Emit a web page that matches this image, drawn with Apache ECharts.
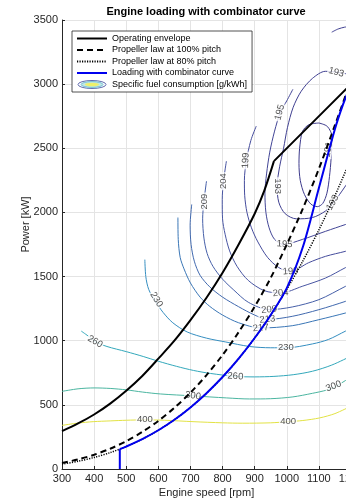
<!DOCTYPE html>
<html><head><meta charset="utf-8">
<script src="https://cdn.jsdelivr.net/npm/echarts@6/dist/echarts.min.js"></script>
<style>html,body{margin:0;padding:0;background:#fff}#c{width:346px;height:499px}</style>
</head><body><div id="c"></div>
<script>
// ---- axes ----
const xTicks = [300, 400, 500, 600, 700, 800, 900, 1000, 1100, 1200];
const yTicks = [0, 500, 1000, 1500, 2000, 2500, 3000, 3500];

// ---- main curves (speed rpm, power kW) ----
const envSpeed = [300, 350, 400, 450, 500, 550, 600, 650, 700, 750, 800, 850, 900, 930, 960, 1080, 1200];
const envPower = [295, 355, 425, 510, 610, 725, 860, 1000, 1160, 1335, 1530, 1750, 1990, 2170, 2400, 2700, 3000];

const propSpeed = [300, 350, 400, 450, 500, 550, 600, 650, 700, 750, 800, 850, 900, 950, 1000, 1050, 1100, 1150, 1200];
const prop100Power = [47, 75, 111, 158, 217, 289, 375, 477, 595, 732, 889, 1066, 1266, 1490, 1750, 2030, 2340, 2680, 3030];
const prop80Power = [38, 60, 90, 128, 175, 233, 302, 384, 480, 591, 717, 860, 1021, 1201, 1400, 1621, 1864, 2130, 2420];

const combSpeed = [480, 480, 500, 550, 600, 650, 700, 750, 800, 850, 900, 950, 1000, 1050, 1100, 1150, 1175, 1200];
const combPower = [0, 155, 175, 233, 302, 384, 480, 591, 717, 860, 1021, 1201, 1410, 1730, 2190, 2650, 2840, 3000];

// ---- specific fuel consumption contours [g/kWh] ----
const c191Speed = [1100, 1069, 1049, 1040, 1038, 1042, 1055, 1075, 1095, 1112, 1125, 1133, 1138, 1141, 1126, 1100];
const c191Power = [2697, 2684, 2632, 2500, 2380, 2250, 2140, 2065, 2045, 2070, 2150, 2280, 2420, 2590, 2671, 2697];
const c193Speed = [1200, 1175, 1150, 1120, 1080, 1045, 1020, 1002, 990, 978, 970, 975, 995, 1030, 1080, 1120, 1145, 1170, 1200];
const c193Power = [3075, 3085, 3095, 3100, 3045, 2945, 2820, 2660, 2500, 2360, 2205, 2080, 1990, 1950, 1960, 2010, 2075, 2160, 2270];
const c193bSpeed = [1140, 1160, 1180, 1200];
const c193bPower = [3405, 3430, 3444, 3450];
const c195Speed = [1019, 1000, 980, 962, 947, 937, 932, 935, 945, 962, 990, 1048, 1121, 1183, 1200];
const c195Power = [2960, 2870, 2780, 2634, 2470, 2300, 2150, 2000, 1880, 1790, 1750, 1789, 1853, 1906, 1920];
const c199Speed = [905, 888, 874, 868, 869, 876, 890, 910, 940, 975, 1012, 1068, 1121, 1183, 1200];
const c199Power = [2673, 2560, 2400, 2250, 2130, 2000, 1880, 1770, 1650, 1570, 1541, 1608, 1658, 1697, 1710];
const c204Speed = [812, 803, 799, 800, 808, 822, 845, 880, 930, 981, 1048, 1121, 1183, 1200];
const c204Power = [2400, 2244, 2100, 1950, 1830, 1700, 1580, 1470, 1390, 1372, 1424, 1489, 1570, 1590];
const c209Speed = [750, 742, 738, 742, 752, 770, 800, 835, 880, 945, 1017, 1100, 1183, 1200];
const c209Power = [2244, 2085, 1950, 1800, 1680, 1580, 1480, 1395, 1300, 1242, 1263, 1320, 1424, 1445];
const c213Speed = [704, 699, 702, 712, 730, 760, 800, 850, 900, 940, 1017, 1100, 1183, 1200];
const c213Power = [2062, 1900, 1750, 1620, 1510, 1420, 1340, 1265, 1200, 1166, 1190, 1242, 1307, 1325];
const c217Speed = [661, 662, 668, 680, 700, 730, 760, 800, 850, 919, 1017, 1100, 1183, 1200];
const c217Power = [1960, 1790, 1650, 1560, 1450, 1340, 1268, 1200, 1140, 1099, 1117, 1164, 1216, 1230];
const c230Speed = [558, 561, 570, 590, 615, 645, 690, 750, 810, 884, 950, 1000, 1080, 1130, 1183, 1200];
const c230Power = [1632, 1500, 1400, 1310, 1220, 1140, 1068, 1020, 990, 955, 945, 945, 975, 1010, 1075, 1095];
const c260Speed = [360, 385, 403, 440, 500, 553, 600, 657, 710, 762, 840, 900, 960, 1020, 1080, 1140, 1200];
const c260Power = [1075, 1030, 993, 955, 915, 877, 840, 800, 768, 745, 722, 718, 722, 735, 762, 810, 880];
const c300Speed = [300, 350, 400, 450, 500, 550, 606, 708, 813, 884, 950, 1019, 1080, 1124, 1150, 1183, 1200];
const c300Power = [605, 625, 632, 628, 617, 600, 585, 570, 554, 546, 548, 562, 590, 615, 640, 690, 715];
const c400Speed = [300, 350, 397, 450, 500, 558, 620, 708, 800, 863, 950, 1004, 1050, 1102, 1150, 1200];
const c400Power = [340, 358, 369, 375, 380, 383, 380, 369, 360, 357, 360, 369, 378, 398, 432, 490];

// contour labels
const lblText  = ['193', '195', '199', '204', '209', '193', '191', '193', '195', '199', '204', '209', '213', '217', '230', '230', '260', '260', '300', '300', '400', '400'];
const lblSpeed = [1154, 978, 872, 803, 742, 970, 1129, 1143, 993, 1012, 981, 945, 940, 919, 997, 594, 840, 403, 708, 1146, 558, 1004];
const lblPower = [3092, 2780, 2405, 2244, 2085, 2205, 2490, 2077, 1752, 1541, 1372, 1242, 1166, 1099, 948, 1320, 722, 993, 571, 645, 383, 369];
const lblRot   = [-15, 75, 88, 90, 90, -90, 80, 60, -4, 5, 5, 5, 5, 5, 0, -58, -3, -30, -8, 20, 0, 0];

const FONT = "'Liberation Sans', Arial, Helvetica, sans-serif";
const zip = (a, b) => a.map((v, i) => [v, b[i]]);

const contours = [
  [c191Speed, c191Power, '#3d3a8c'],
  [c193Speed, c193Power, '#3f3f90'],
  [c193bSpeed, c193bPower, '#3f3f90'],
  [c195Speed, c195Power, '#424596'],
  [c199Speed, c199Power, '#454c9c'],
  [c204Speed, c204Power, '#4855a2'],
  [c209Speed, c209Power, '#465fa8'],
  [c213Speed, c213Power, '#4169ae'],
  [c217Speed, c217Power, '#3a76b6'],
  [c230Speed, c230Power, '#358ec0'],
  [c260Speed, c260Power, '#33a8bb'],
  [c300Speed, c300Power, '#4bb5a0'],
  [c400Speed, c400Power, '#e2e244']
];

const series = [];
contours.forEach((c, i) => {
  series.push({
    type: 'line', name: 'sfc' + i, data: zip(c[0], c[1]),
    showSymbol: false, symbol: 'none', smooth: 0.3, silent: true, z: 1,
    lineStyle: { width: 1, color: c[2] }
  });
});
series.push({
  type: 'scatter', name: 'sfcLabels', silent: true, z: 2,
  symbol: 'circle', symbolSize: 1, itemStyle: { color: 'rgba(0,0,0,0)' },
  data: lblText.map((t, i) => ({
    value: [lblSpeed[i], lblPower[i]], name: t,
    label: { rotate: lblRot[i] }
  })),
  label: {
    show: true, position: 'inside', formatter: p => p.name,
    fontSize: 9.5, fontFamily: FONT, color: '#262626',
    backgroundColor: '#fff', padding: [0, 1], lineHeight: 9
  }
});

const kink = envSpeed.indexOf(960);
const clear = { color: 'rgba(0,0,0,0)', borderColor: 'rgba(0,0,0,0)', borderWidth: 0 };
const common = { type: 'line', showSymbol: false, symbol: 'none', silent: true, z: 3, itemStyle: clear };
series.push(Object.assign({}, common, {
  name: 'Operating envelope', data: zip(envSpeed, envPower).slice(0, kink + 1), smooth: 0.3,
  lineStyle: { color: '#000', width: 2 }
}));
series.push(Object.assign({}, common, {
  name: 'Operating envelope', data: zip(envSpeed, envPower).slice(kink),
  lineStyle: { color: '#000', width: 2 }
}));
series.push(Object.assign({}, common, {
  name: 'Propeller law at 80% pitch', data: zip(propSpeed, prop80Power), smooth: 0.3,
  lineStyle: { color: '#000', width: 1.5, type: [1.2, 1.3] }
}));
series.push(Object.assign({}, common, {
  name: 'Propeller law at 100% pitch', data: zip(propSpeed, prop100Power), smooth: 0.3,
  lineStyle: { color: '#000', width: 2, type: [6, 4] }
}));
series.push(Object.assign({}, common, {
  name: 'Loading with combinator curve', data: zip(combSpeed, combPower).slice(0, 2),
  lineStyle: { color: '#0000ee', width: 2 }
}));
series.push(Object.assign({}, common, {
  name: 'Loading with combinator curve', data: zip(combSpeed, combPower).slice(1), smooth: 0.3,
  lineStyle: { color: '#0000ee', width: 2 }
}));
series.push({ type: 'line', name: 'Specific fuel consumption [g/kWh]', data: [], symbol: 'none',
  itemStyle: clear, lineStyle: { color: '#3a4aa0' } });

const ellipseSvg = "<svg xmlns='http://www.w3.org/2000/svg' width='60' height='18' viewBox='0 0 30 9'>" +
  "<ellipse cx='15' cy='4.5' rx='14' ry='4' fill='white' stroke='%233d4a9a' stroke-width='0.8'/>" +
  "<ellipse cx='15' cy='4.5' rx='11' ry='2.9' fill='%23c4e8e4' stroke='%2342a8c4' stroke-width='0.7'/>" +
  "<ellipse cx='15' cy='4.5' rx='7' ry='1.8' fill='%23eef06a'/></svg>";

const chart = echarts.init(document.getElementById('c'), null, { renderer: 'canvas' });
chart.setOption({
  animation: false,
  backgroundColor: '#fff',
  title: {
    text: 'Engine loading with combinator curve', left: 206, top: 6, textAlign: 'center', padding: 0,
    textStyle: { fontSize: 11, fontWeight: 'bold', fontFamily: FONT, color: '#000' }
  },
  legend: {
    orient: 'vertical', left: 72, top: 31, itemWidth: 30, itemHeight: 9, itemGap: 2.5,
    padding: [3, 5, 3, 4], backgroundColor: '#fff', borderColor: '#262626', borderWidth: 0.8,
    borderRadius: 0, selectedMode: false, z: 10,
    itemStyle: clear,
    textStyle: { fontSize: 9, fontFamily: FONT, color: '#000' },
    data: [
      'Operating envelope',
      'Propeller law at 100% pitch',
      'Propeller law at 80% pitch',
      'Loading with combinator curve',
      { name: 'Specific fuel consumption [g/kWh]', icon: 'image://data:image/svg+xml;utf8,' + ellipseSvg }
    ]
  },
  grid: { left: 62, top: 20, right: -5, bottom: 30, containLabel: false, outerBoundsMode: 'none' },
  xAxis: {
    type: 'value', min: xTicks[0], max: xTicks[xTicks.length - 1], interval: xTicks[1] - xTicks[0],
    name: 'Engine speed [rpm]', nameLocation: 'middle', nameGap: 18, nameMoveOverlap: false,
    nameTextStyle: { fontSize: 11, fontFamily: FONT, color: '#262626' },
    axisLine: { show: true, onZero: false, lineStyle: { color: '#262626', width: 1 } },
    axisTick: { show: true, inside: true, length: 3, lineStyle: { color: '#262626' } },
    axisLabel: { fontSize: 11, fontFamily: FONT, color: '#262626', margin: 4, showMaxLabel: true, showMinLabel: true,
      hideOverlap: false, formatter: v => String(v) },
    splitLine: { show: true, lineStyle: { color: '#e4e4e4', width: 1 } }
  },
  yAxis: {
    type: 'value', min: yTicks[0], max: yTicks[yTicks.length - 1], interval: yTicks[1] - yTicks[0],
    name: 'Power [kW]', nameLocation: 'middle', nameGap: 31, nameMoveOverlap: false,
    nameTextStyle: { fontSize: 11, fontFamily: FONT, color: '#262626', padding: [0, 0, 0, 40] },
    axisLine: { show: true, onZero: false, lineStyle: { color: '#262626', width: 1 } },
    axisTick: { show: true, inside: true, length: 3, lineStyle: { color: '#262626' } },
    axisLabel: { fontSize: 11, fontFamily: FONT, color: '#262626', margin: 4, showMaxLabel: true, showMinLabel: true,
      hideOverlap: false, formatter: v => String(v) },
    splitLine: { show: true, lineStyle: { color: '#e4e4e4', width: 1 } }
  },
  series: series
});
</script>
</body></html>
